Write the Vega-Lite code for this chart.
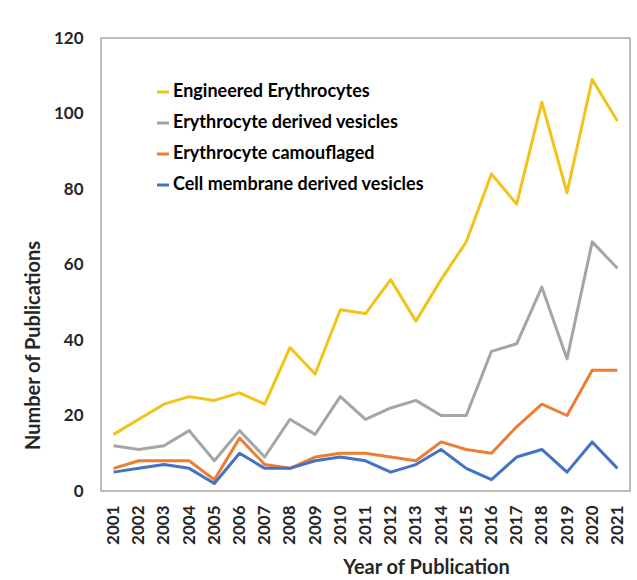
{
  "$schema": "https://vega.github.io/schema/vega-lite/v6.json",
  "width": 529,
  "height": 453,
  "autosize": {"type": "none"},
  "padding": {"left": 101, "top": 38, "right": 7, "bottom": 89},
  "background": "white",
  "config": {
    "view": {"stroke": "#A6A6A6", "strokeWidth": 1.5},
    "font": "Lato"
  },
  "datasets": {
    "pubs": [
      {"year": "2001", "series": "Engineered Erythrocytes", "value": 15},
      {"year": "2002", "series": "Engineered Erythrocytes", "value": 19},
      {"year": "2003", "series": "Engineered Erythrocytes", "value": 23},
      {"year": "2004", "series": "Engineered Erythrocytes", "value": 25},
      {"year": "2005", "series": "Engineered Erythrocytes", "value": 24},
      {"year": "2006", "series": "Engineered Erythrocytes", "value": 26},
      {"year": "2007", "series": "Engineered Erythrocytes", "value": 23},
      {"year": "2008", "series": "Engineered Erythrocytes", "value": 38},
      {"year": "2009", "series": "Engineered Erythrocytes", "value": 31},
      {"year": "2010", "series": "Engineered Erythrocytes", "value": 48},
      {"year": "2011", "series": "Engineered Erythrocytes", "value": 47},
      {"year": "2012", "series": "Engineered Erythrocytes", "value": 56},
      {"year": "2013", "series": "Engineered Erythrocytes", "value": 45},
      {"year": "2014", "series": "Engineered Erythrocytes", "value": 56},
      {"year": "2015", "series": "Engineered Erythrocytes", "value": 66},
      {"year": "2016", "series": "Engineered Erythrocytes", "value": 84},
      {"year": "2017", "series": "Engineered Erythrocytes", "value": 76},
      {"year": "2018", "series": "Engineered Erythrocytes", "value": 103},
      {"year": "2019", "series": "Engineered Erythrocytes", "value": 79},
      {"year": "2020", "series": "Engineered Erythrocytes", "value": 109},
      {"year": "2021", "series": "Engineered Erythrocytes", "value": 98},
      {"year": "2001", "series": "Erythrocyte derived vesicles", "value": 12},
      {"year": "2002", "series": "Erythrocyte derived vesicles", "value": 11},
      {"year": "2003", "series": "Erythrocyte derived vesicles", "value": 12},
      {"year": "2004", "series": "Erythrocyte derived vesicles", "value": 16},
      {"year": "2005", "series": "Erythrocyte derived vesicles", "value": 8},
      {"year": "2006", "series": "Erythrocyte derived vesicles", "value": 16},
      {"year": "2007", "series": "Erythrocyte derived vesicles", "value": 9},
      {"year": "2008", "series": "Erythrocyte derived vesicles", "value": 19},
      {"year": "2009", "series": "Erythrocyte derived vesicles", "value": 15},
      {"year": "2010", "series": "Erythrocyte derived vesicles", "value": 25},
      {"year": "2011", "series": "Erythrocyte derived vesicles", "value": 19},
      {"year": "2012", "series": "Erythrocyte derived vesicles", "value": 22},
      {"year": "2013", "series": "Erythrocyte derived vesicles", "value": 24},
      {"year": "2014", "series": "Erythrocyte derived vesicles", "value": 20},
      {"year": "2015", "series": "Erythrocyte derived vesicles", "value": 20},
      {"year": "2016", "series": "Erythrocyte derived vesicles", "value": 37},
      {"year": "2017", "series": "Erythrocyte derived vesicles", "value": 39},
      {"year": "2018", "series": "Erythrocyte derived vesicles", "value": 54},
      {"year": "2019", "series": "Erythrocyte derived vesicles", "value": 35},
      {"year": "2020", "series": "Erythrocyte derived vesicles", "value": 66},
      {"year": "2021", "series": "Erythrocyte derived vesicles", "value": 59},
      {"year": "2001", "series": "Erythrocyte camouflaged", "value": 6},
      {"year": "2002", "series": "Erythrocyte camouflaged", "value": 8},
      {"year": "2003", "series": "Erythrocyte camouflaged", "value": 8},
      {"year": "2004", "series": "Erythrocyte camouflaged", "value": 8},
      {"year": "2005", "series": "Erythrocyte camouflaged", "value": 3},
      {"year": "2006", "series": "Erythrocyte camouflaged", "value": 14},
      {"year": "2007", "series": "Erythrocyte camouflaged", "value": 7},
      {"year": "2008", "series": "Erythrocyte camouflaged", "value": 6},
      {"year": "2009", "series": "Erythrocyte camouflaged", "value": 9},
      {"year": "2010", "series": "Erythrocyte camouflaged", "value": 10},
      {"year": "2011", "series": "Erythrocyte camouflaged", "value": 10},
      {"year": "2012", "series": "Erythrocyte camouflaged", "value": 9},
      {"year": "2013", "series": "Erythrocyte camouflaged", "value": 8},
      {"year": "2014", "series": "Erythrocyte camouflaged", "value": 13},
      {"year": "2015", "series": "Erythrocyte camouflaged", "value": 11},
      {"year": "2016", "series": "Erythrocyte camouflaged", "value": 10},
      {"year": "2017", "series": "Erythrocyte camouflaged", "value": 17},
      {"year": "2018", "series": "Erythrocyte camouflaged", "value": 23},
      {"year": "2019", "series": "Erythrocyte camouflaged", "value": 20},
      {"year": "2020", "series": "Erythrocyte camouflaged", "value": 32},
      {"year": "2021", "series": "Erythrocyte camouflaged", "value": 32},
      {"year": "2001", "series": "Cell membrane derived vesicles", "value": 5},
      {"year": "2002", "series": "Cell membrane derived vesicles", "value": 6},
      {"year": "2003", "series": "Cell membrane derived vesicles", "value": 7},
      {"year": "2004", "series": "Cell membrane derived vesicles", "value": 6},
      {"year": "2005", "series": "Cell membrane derived vesicles", "value": 2},
      {"year": "2006", "series": "Cell membrane derived vesicles", "value": 10},
      {"year": "2007", "series": "Cell membrane derived vesicles", "value": 6},
      {"year": "2008", "series": "Cell membrane derived vesicles", "value": 6},
      {"year": "2009", "series": "Cell membrane derived vesicles", "value": 8},
      {"year": "2010", "series": "Cell membrane derived vesicles", "value": 9},
      {"year": "2011", "series": "Cell membrane derived vesicles", "value": 8},
      {"year": "2012", "series": "Cell membrane derived vesicles", "value": 5},
      {"year": "2013", "series": "Cell membrane derived vesicles", "value": 7},
      {"year": "2014", "series": "Cell membrane derived vesicles", "value": 11},
      {"year": "2015", "series": "Cell membrane derived vesicles", "value": 6},
      {"year": "2016", "series": "Cell membrane derived vesicles", "value": 3},
      {"year": "2017", "series": "Cell membrane derived vesicles", "value": 9},
      {"year": "2018", "series": "Cell membrane derived vesicles", "value": 11},
      {"year": "2019", "series": "Cell membrane derived vesicles", "value": 5},
      {"year": "2020", "series": "Cell membrane derived vesicles", "value": 13},
      {"year": "2021", "series": "Cell membrane derived vesicles", "value": 6}
    ]
  },
  "data": {"name": "pubs"},
  "mark": {"type": "line", "strokeWidth": 3, "strokeJoin": "round"},
  "encoding": {
    "x": {
      "field": "year",
      "type": "ordinal",
      "scale": {"type": "point", "padding": 0.5},
      "axis": {
        "title": "Year of Publication",
        "labelAngle": 270,
        "labelFont": "Lato",
        "labelFontWeight": "bold",
        "labelFontSize": 17,
        "labelColor": "#262626",
        "labelPadding": 14,
        "ticks": false,
        "domain": false,
        "titleFont": "Lato",
        "titleFontWeight": "bold",
        "titleFontSize": 20,
        "titleColor": "#262626",
        "titleX": 325,
        "titleY": 76,
        "titleBaseline": "middle",
        "titleAlign": "center"
      }
    },
    "y": {
      "field": "value",
      "type": "quantitative",
      "scale": {"domain": [0, 120], "nice": false},
      "axis": {
        "title": "Number of Publications",
        "values": [0, 20, 40, 60, 80, 100, 120],
        "grid": false,
        "ticks": false,
        "domain": false,
        "labelFont": "Lato",
        "labelFontWeight": "bold",
        "labelFontSize": 17,
        "labelColor": "#262626",
        "labelPadding": 18,
        "titleFont": "Lato",
        "titleFontWeight": "bold",
        "titleFontSize": 20,
        "titleColor": "#262626",
        "titleAngle": 270,
        "titleX": -68,
        "titleY": 307,
        "titleBaseline": "middle",
        "titleAlign": "center"
      }
    },
    "color": {
      "field": "series",
      "type": "nominal",
      "scale": {
        "domain": ["Engineered Erythrocytes", "Erythrocyte derived vesicles", "Erythrocyte camouflaged", "Cell membrane derived vesicles"],
        "range": ["#F2C318", "#A5A5A5", "#ED7D31", "#4472C4"]
      },
      "legend": {
        "title": null,
        "orient": "none",
        "legendX": 53,
        "legendY": 45,
        "padding": 0,
        "symbolType": "stroke",
        "symbolSize": 144,
        "symbolStrokeWidth": 3,
        "labelFont": "Lato",
        "labelFontWeight": "bold",
        "labelFontSize": 18,
        "labelColor": "#000000",
        "labelOffset": 1,
        "rowPadding": 13,
        "labelLimit": 400
      }
    }
  }
}
